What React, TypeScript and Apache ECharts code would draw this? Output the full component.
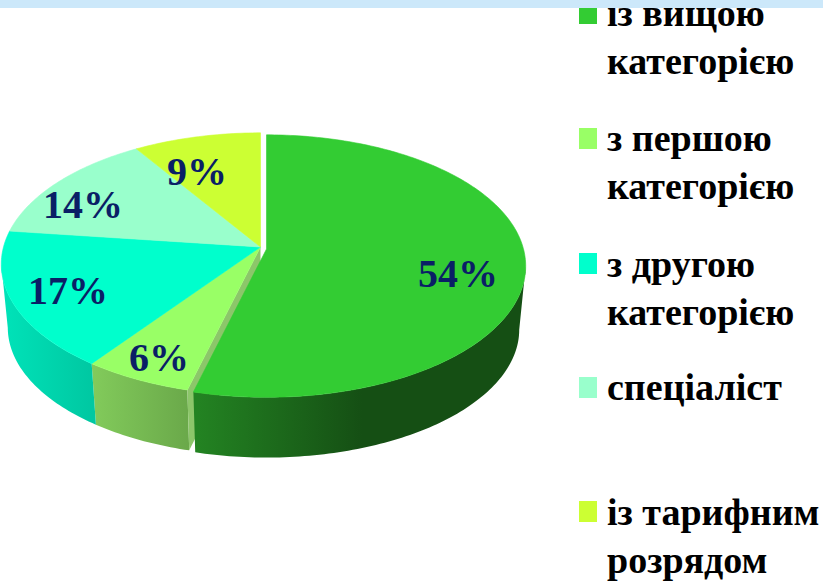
import React, { useEffect, useRef } from "react";
import * as echarts from "echarts";

const categories = ["із вищою\nкатегорією", "з першою\nкатегорією", "з другою\nкатегорією", "спеціаліст", "із тарифним\nрозрядом"];
const values = [54, 6, 17, 14, 9];

const topColors = ["#33CC33", "#99FF66", "#00FFCC", "#99FFCC", "#CCFF33"];
const labelColor = "#0A1F66";
const wallStops: any[] = [
  { x0: 197, x1: 362, stops: [[0, "#238322"], [1, "#154F14"]] },
  { x0: 92, x1: 193, stops: [[0, "#82CB5B"], [1, "#69A749"]] },
  { x0: 5, x1: 92, stops: [[0, "#00E2B8"], [1, "#00C8A2"]] },
  null,
  null,
];
const cutWallColor = "#8CC66A";

// layout of the projected pie
const CX = 260.5, CY = 247, A = 257, B = 129, K = 0.13;
const DEPTH = 64, BOTTOM_SCALE = 0.975;
const EXPLODED_INDEX = 0;
const EXPLODE_OFFSET = [6, 2];
const LABEL_POS = [[458, 273], [159, 357], [68, 290], [83, 204], [197, 171]];
const LEGEND_X = 607, SWATCH_X = 579, SWATCH_W = 18, SWATCH_H = 21;
const LEGEND_SWATCH_Y = [3, 128, 253, 377, 501];
const LEGEND_TEXT_Y = [-11, 114, 240, 363, 488];
const LEGEND_FONT = "bold 38px 'Liberation Serif'";
const LABEL_FONT = "bold 40px 'Liberation Serif'";
const STEP = Math.PI / 180;

function project(theta: number, r: number, plane: number, off: number[]) {
  const u = Math.sin(theta) * r, v = Math.cos(theta) * r;
  const w = 1 + K * v;
  const s = plane ? BOTTOM_SCALE : 1;
  return [
    CX + off[0] + (s * A * u) / w,
    CY + off[1] + (plane ? DEPTH : 0) - (s * B * v) / w,
  ];
}

function arc(a: number, b: number, plane: number, off: number[]) {
  const pts: number[][] = [];
  const n = Math.max(2, Math.ceil((b - a) / STEP));
  for (let i = 0; i <= n; i++) pts.push(project(a + ((b - a) * i) / n, 1, plane, off));
  return pts;
}

function sliceAngles(i: number) {
  const total = values.reduce((s, v) => s + v, 0);
  const before = values.slice(0, i).reduce((s, v) => s + v, 0);
  return [(before / total) * 2 * Math.PI, ((before + values[i]) / total) * 2 * Math.PI];
}

function renderSlice(params: any, api: any) {
  const i = params.dataIndex;
  const [a, b] = sliceAngles(i);
  const off = i === EXPLODED_INDEX ? EXPLODE_OFFSET : [0, 0];
  const children: any[] = [];
  const visA = Math.acos(-K), visB = 2 * Math.PI - visA;
  const wa = Math.max(a, visA), wb = Math.min(b, visB);
  const grad = wallStops[i];
  if (wa < wb && grad) {
    const top = arc(wa, wb, 0, off);
    const bottom = arc(wa, wb, 1, off).reverse();
    children.push({
      type: "polygon",
      z2: i === EXPLODED_INDEX ? 2 : 1,
      shape: { points: top.concat(bottom) },
      style: {
        fill: new echarts.graphic.LinearGradient(
          grad.x0, 0, grad.x1, 0,
          grad.stops.map((s: any) => ({ offset: s[0], color: s[1] })),
          true
        ),
      },
    });
  }
  // cut face that shows through the gap left by the pulled-out slice
  if (i === EXPLODED_INDEX + 1) {
    const apexT = project(0, 0, 0, off), apexB = project(0, 0, 1, off);
    const cornerT = project(a, 1, 0, off), cornerB = project(a, 1, 1, off);
    children.push({
      type: "polygon",
      z2: 1,
      shape: { points: [apexT, cornerT, cornerB, apexB] },
      style: { fill: cutWallColor },
    });
  }
  const apex = project(0, 0, 0, off);
  children.push({
    type: "polygon",
    z2: 3,
    shape: { points: [apex].concat(arc(a, b, 0, off)) },
    style: { fill: api.visual("color"), stroke: api.visual("color"), lineWidth: 0.6 },
  });
  children.push({
    type: "text",
    z2: 4,
    x: LABEL_POS[i][0],
    y: LABEL_POS[i][1],
    style: {
      text: `${api.value(0)}%`,
      font: LABEL_FONT,
      fill: labelColor,
      align: "center",
      verticalAlign: "middle",
    },
  });
  return { type: "group", children };
}

export default function App() {
  const ref = useRef<HTMLDivElement>(null);
  useEffect(() => {
    const chart = echarts.init(ref.current!, undefined, { renderer: "svg" });
    const legendEls: any[] = [];
    categories.forEach((name, i) => {
      legendEls.push({
        type: "rect",
        z: 5,
        shape: { x: SWATCH_X, y: LEGEND_SWATCH_Y[i], width: SWATCH_W, height: SWATCH_H },
        style: { fill: topColors[i] },
      });
      legendEls.push({
        type: "text",
        z: 5,
        x: LEGEND_X,
        y: LEGEND_TEXT_Y[i],
        style: { text: name, font: LEGEND_FONT, lineHeight: 48, fill: "#000000", align: "left", verticalAlign: "top" },
      });
    });
    chart.setOption({
      animation: false,
      backgroundColor: "#FFFFFF",
      graphic: {
        elements: [
          ...legendEls,
          { type: "rect", z: 20, shape: { x: 0, y: 0, width: 823, height: 8 }, style: { fill: "#CCE8FA" } },
        ],
      },
      series: [
        {
          type: "custom",
          coordinateSystem: "none",
          renderItem: renderSlice,
          data: values.map((v, i) => ({ name: categories[i], value: [v], itemStyle: { color: topColors[i] } })),
        },
      ],
    });
    return () => chart.dispose();
  }, []);
  return <div ref={ref} style={{ position: "fixed", left: 0, top: 0, width: 823, height: 583 }} />;
}
